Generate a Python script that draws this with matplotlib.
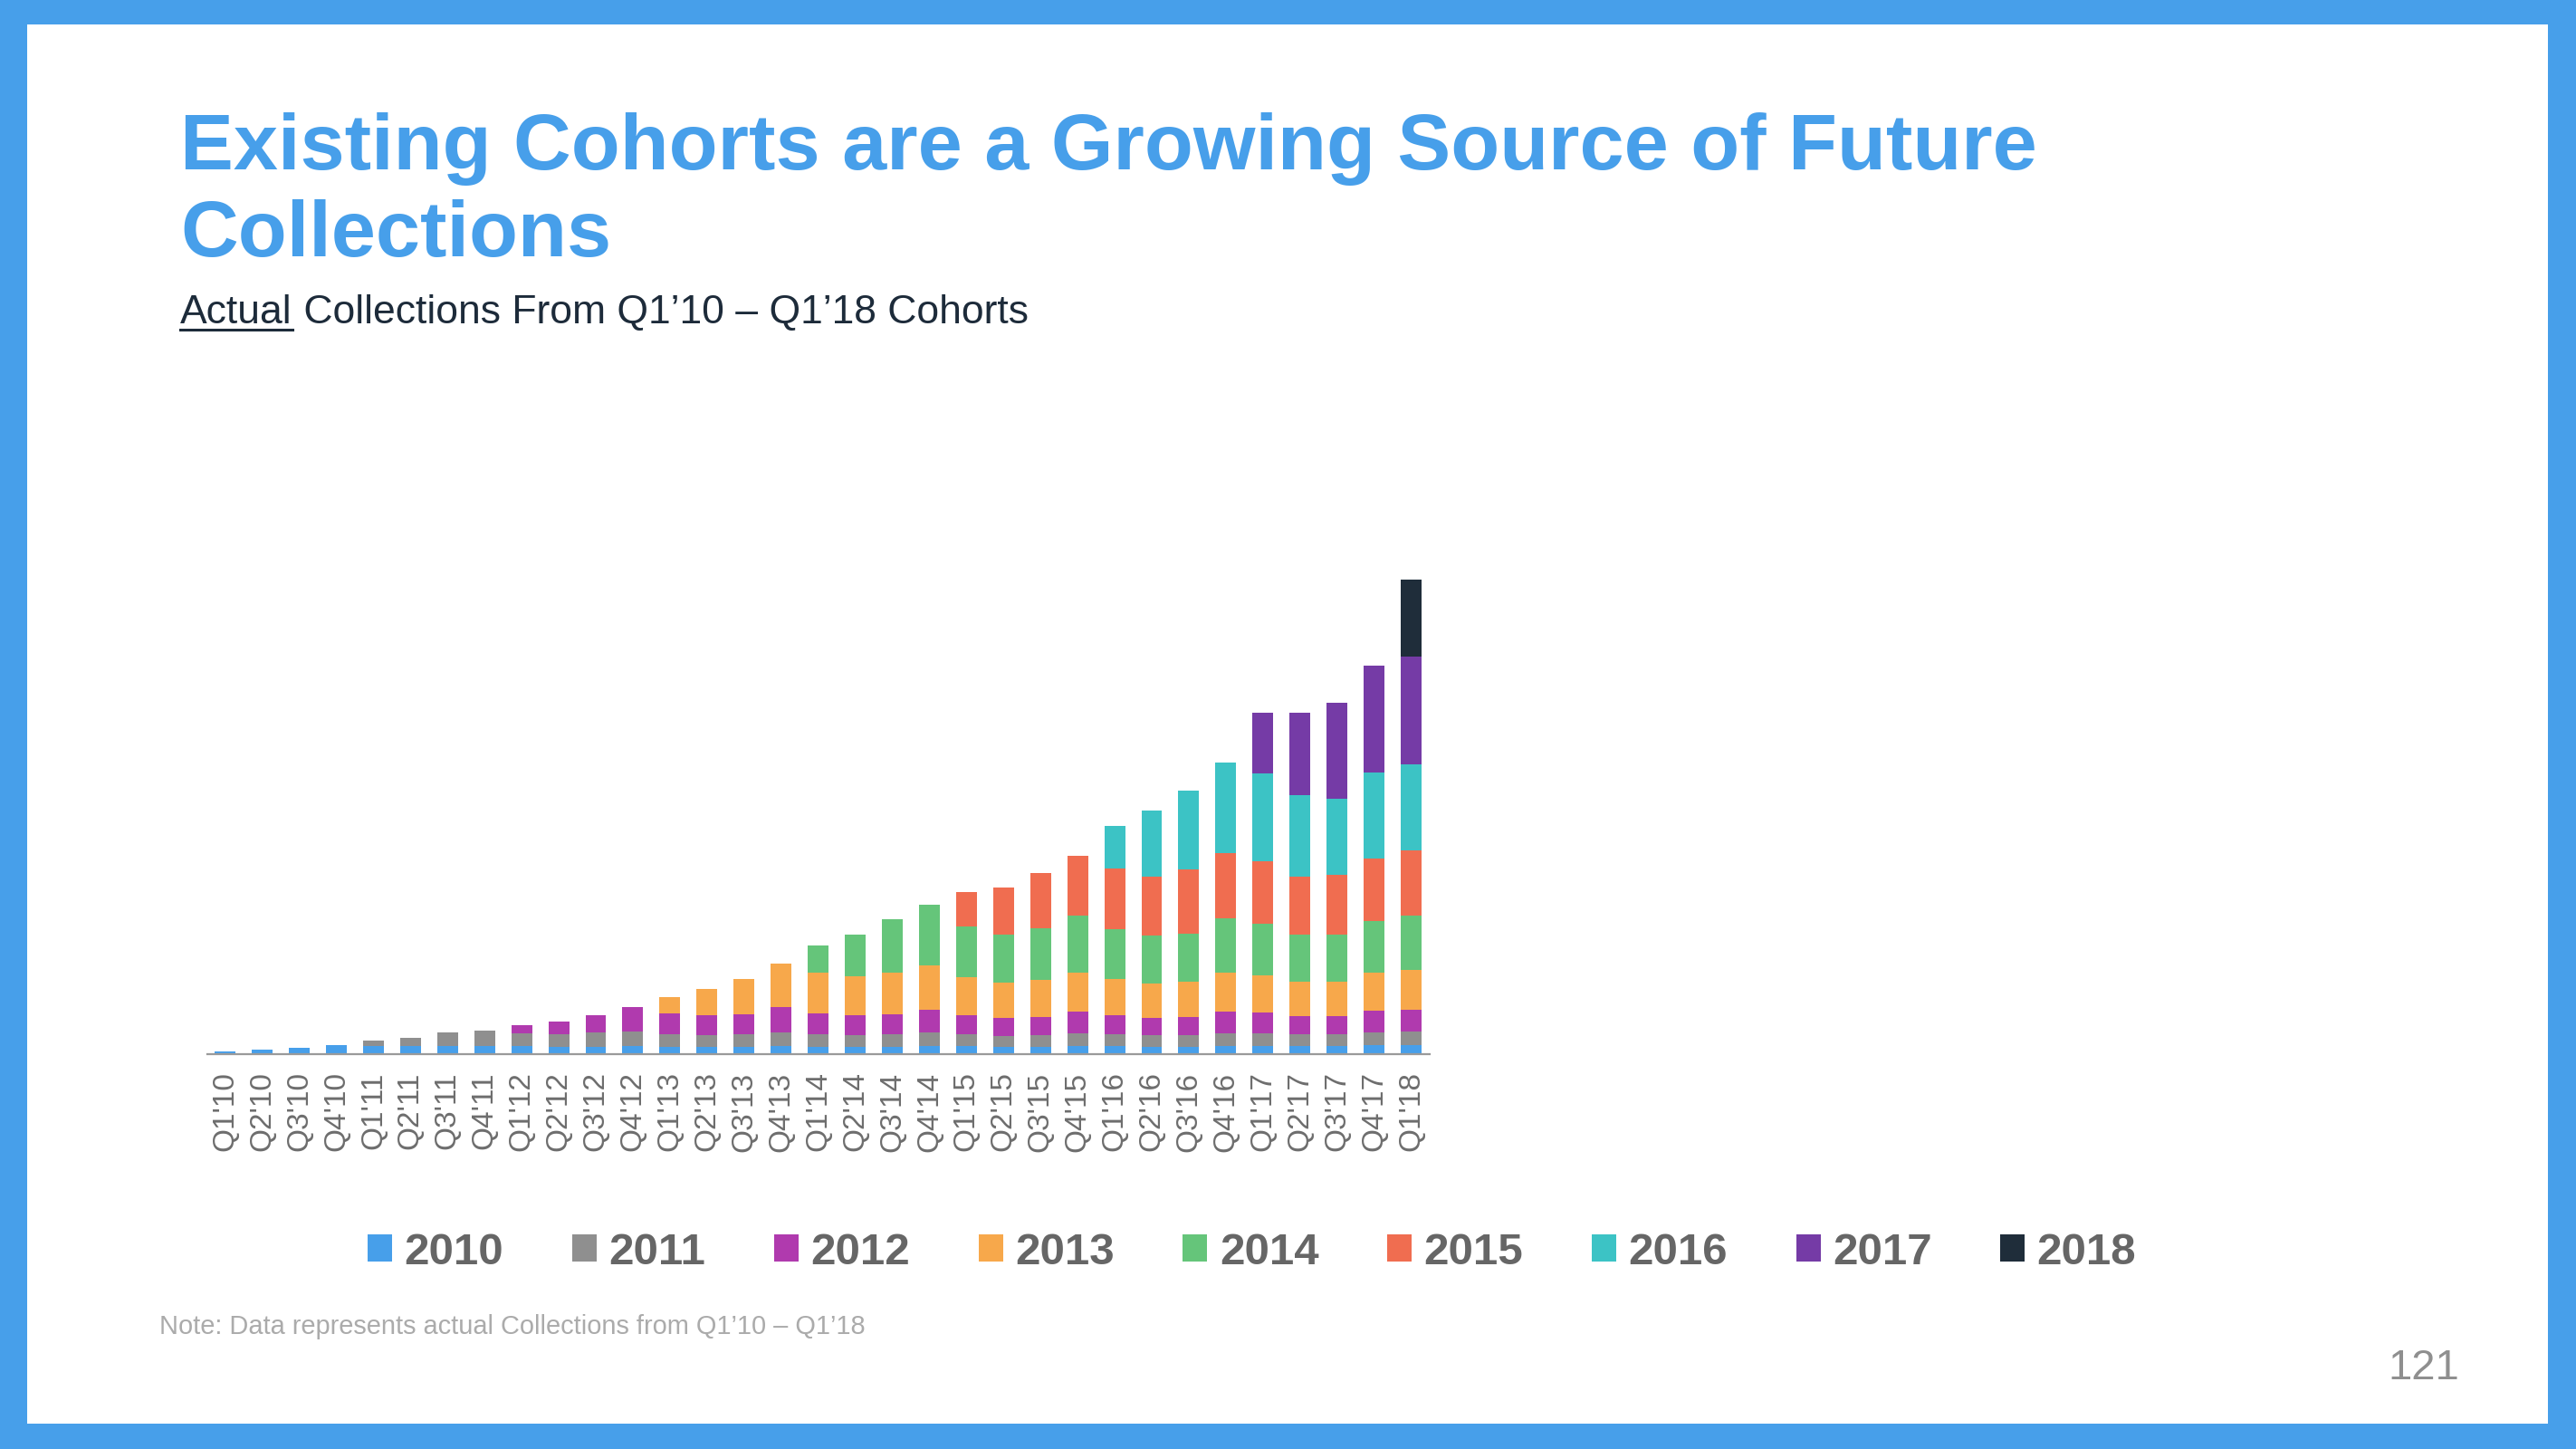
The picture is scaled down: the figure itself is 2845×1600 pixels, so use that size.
import matplotlib
matplotlib.use("Agg")
import matplotlib.pyplot as plt
from matplotlib.patches import Rectangle
from matplotlib.lines import Line2D
from matplotlib.font_manager import FontProperties

# ---------------- data ----------------
quarters = ["Q1'10", "Q2'10", "Q3'10", "Q4'10", "Q1'11", "Q2'11", "Q3'11", "Q4'11",
            "Q1'12", "Q2'12", "Q3'12", "Q4'12", "Q1'13", "Q2'13", "Q3'13", "Q4'13",
            "Q1'14", "Q2'14", "Q3'14", "Q4'14", "Q1'15", "Q2'15", "Q3'15", "Q4'15",
            "Q1'16", "Q2'16", "Q3'16", "Q4'16", "Q1'17", "Q2'17", "Q3'17", "Q4'17",
            "Q1'18"]

cohorts = ["2010", "2011", "2012", "2013", "2014", "2015", "2016", "2017", "2018"]

# collections by cohort, from the cohort's first quarter to Q1'18
c2010 = [2.7, 5.3, 7.3, 9.7, 8.7, 8.7, 9.0, 9.0, 8.7, 8.0, 8.3, 8.7, 8.0, 8.0, 8.0, 8.7,
         8.3, 8.3, 8.3, 9.0, 9.0, 8.3, 8.3, 9.0, 9.0, 8.3, 8.3, 9.0, 9.0, 9.0, 9.0, 9.7, 10.3]
c2011 = [6.0, 9.3, 15.0, 16.7, 14.3, 14.0, 15.7, 16.3, 14.0, 13.0, 14.0, 15.6,
         13.7, 12.7, 13.7, 15.3, 13.0, 12.0, 12.7, 14.0, 13.0, 12.7, 13.0, 14.3,
         14.3, 13.0, 13.0, 14.6, 15.0]
c2012 = [8.7, 13.7, 18.7, 27.0, 23.0, 22.3, 22.3, 28.0, 23.3, 21.7, 22.3, 25.0,
         21.3, 20.0, 20.3, 23.7, 21.3, 19.3, 20.0, 24.0, 22.4, 20.3, 20.3, 23.7, 24.0]
c2013 = [18.0, 28.7, 38.7, 48.0, 45.0, 43.6, 45.4, 48.7, 41.7, 38.7, 40.7, 43.6,
         40.0, 38.0, 38.7, 42.7, 41.3, 38.0, 37.7, 42.0, 43.7]
c2014 = [29.7, 45.7, 59.0, 67.0, 56.0, 53.3, 57.0, 62.4, 55.0, 52.4, 53.3, 60.0,
         57.0, 51.4, 52.0, 57.3, 59.7]
c2015 = [37.7, 52.0, 60.7, 66.3, 66.4, 65.3, 70.4, 72.3, 68.7, 64.3, 65.7, 68.4, 72.0]
c2016 = [47.0, 73.3, 87.0, 100.2, 97.3, 90.0, 84.3, 95.6, 95.7]
c2017 = [66.8, 91.2, 105.9, 117.6, 118.9]
c2018 = [84.6]

series = [c2010, c2011, c2012, c2013, c2014, c2015, c2016, c2017, c2018]
colors = ["#479FEA", "#8F8F8F", "#B03AAE", "#F7A84B", "#65C57A",
          "#F06D50", "#3CC3C5", "#753BA6", "#1F2D3A"]

# ---------------- figure ----------------
W, H = 2845, 1600
fig = plt.figure(figsize=(W / 100, H / 100), dpi=100)
fig.patch.set_facecolor("white")

def fx(px):
    return px / W

def fy(py):
    return 1 - py / H

# blue frame
frame = "#479FEA"
for (x0, y0, x1, y1) in [(0, 0, W, 27), (0, 1572, W, H), (0, 0, 30, H), (2814, 0, W, H)]:
    fig.patches.append(Rectangle((fx(x0), fy(y1)), fx(x1 - x0), (y1 - y0) / H,
                                 transform=fig.transFigure, facecolor=frame,
                                 edgecolor="none", zorder=0))

# title
title_kw = dict(family=["Liberation Sans", "DejaVu Sans"], weight="bold",
                size=63.5, color="#479FEA", va="baseline", ha="left")
fig.text(fx(199), fy(187), "Existing Cohorts are a Growing Source of Future", **title_kw)
fig.text(fx(199), fy(283), "Collections", **title_kw)

# subtitle with underlined first word
sub_kw = dict(family=["Liberation Sans", "DejaVu Sans"], size=32,
              color="#1D2B3A", va="baseline", ha="left")
t1 = fig.text(fx(199), fy(357), "Actual", **sub_kw)
renderer = fig.canvas.get_renderer()
bb = t1.get_window_extent(renderer)
x_end = bb.x1 / W
fig.lines.append(Line2D([fx(199), x_end], [fy(364), fy(364)],
                        transform=fig.transFigure, color="#1D2B3A", linewidth=2.2))
fig.text(x_end, fy(357), " Collections From Q1\u201910 \u2013 Q1\u201918 Cohorts", **sub_kw)

# chart
ax = fig.add_axes([fx(229), fy(1164), fx(1578.6 - 229), (1164 - 600) / H])
n = len(quarters)
xs = list(range(n))
bottom = [0.0] * n
handles = []
for name, vals, col in zip(cohorts, series, colors):
    full = [0.0] * (n - len(vals)) + list(vals)
    b = ax.bar(xs, full, width=0.56, bottom=bottom, color=col,
               edgecolor="none", label=name)
    handles.append(b)
    bottom = [a + v for a, v in zip(bottom, full)]

ax.set_xlim(-0.48, n - 1 + 0.49)
ax.set_ylim(0, 564)
ax.set_xticks(xs)
ax.set_xticklabels(quarters, rotation=90, family=["Liberation Sans", "DejaVu Sans"],
                   fontsize=24, color="#6D6D6D")
ax.tick_params(axis="x", length=0, pad=14)
ax.set_yticks([])
for s in ["left", "right", "top"]:
    ax.spines[s].set_visible(False)
ax.spines["bottom"].set_color("#9A9A9A")
ax.spines["bottom"].set_linewidth(1.6)
ax.set_facecolor("none")

# legend
leg = fig.legend(handles, cohorts, loc="center left",
                 bbox_to_anchor=(fx(406), fy(1383)), ncol=9, frameon=False,
                 prop=FontProperties(family="Liberation Sans", weight="bold", size=35.5),
                 labelcolor="#666666", handlelength=0.55, handleheight=0.58,
                 handletextpad=0.27, columnspacing=1.535, borderpad=0,
                 borderaxespad=0)

# footnote and page number
fig.text(fx(176), fy(1473), "Note: Data represents actual Collections from Q1\u201910 \u2013 Q1\u201918",
         family=["Liberation Sans", "DejaVu Sans"], size=20.9, color="#ABABAB",
         va="baseline", ha="left")
fig.text(fx(2716), fy(1523), "121", family=["Liberation Sans", "DejaVu Sans"],
         size=34, color="#8F8F8F", va="baseline", ha="right")

fig.savefig("out.png", dpi=100, facecolor="white")
